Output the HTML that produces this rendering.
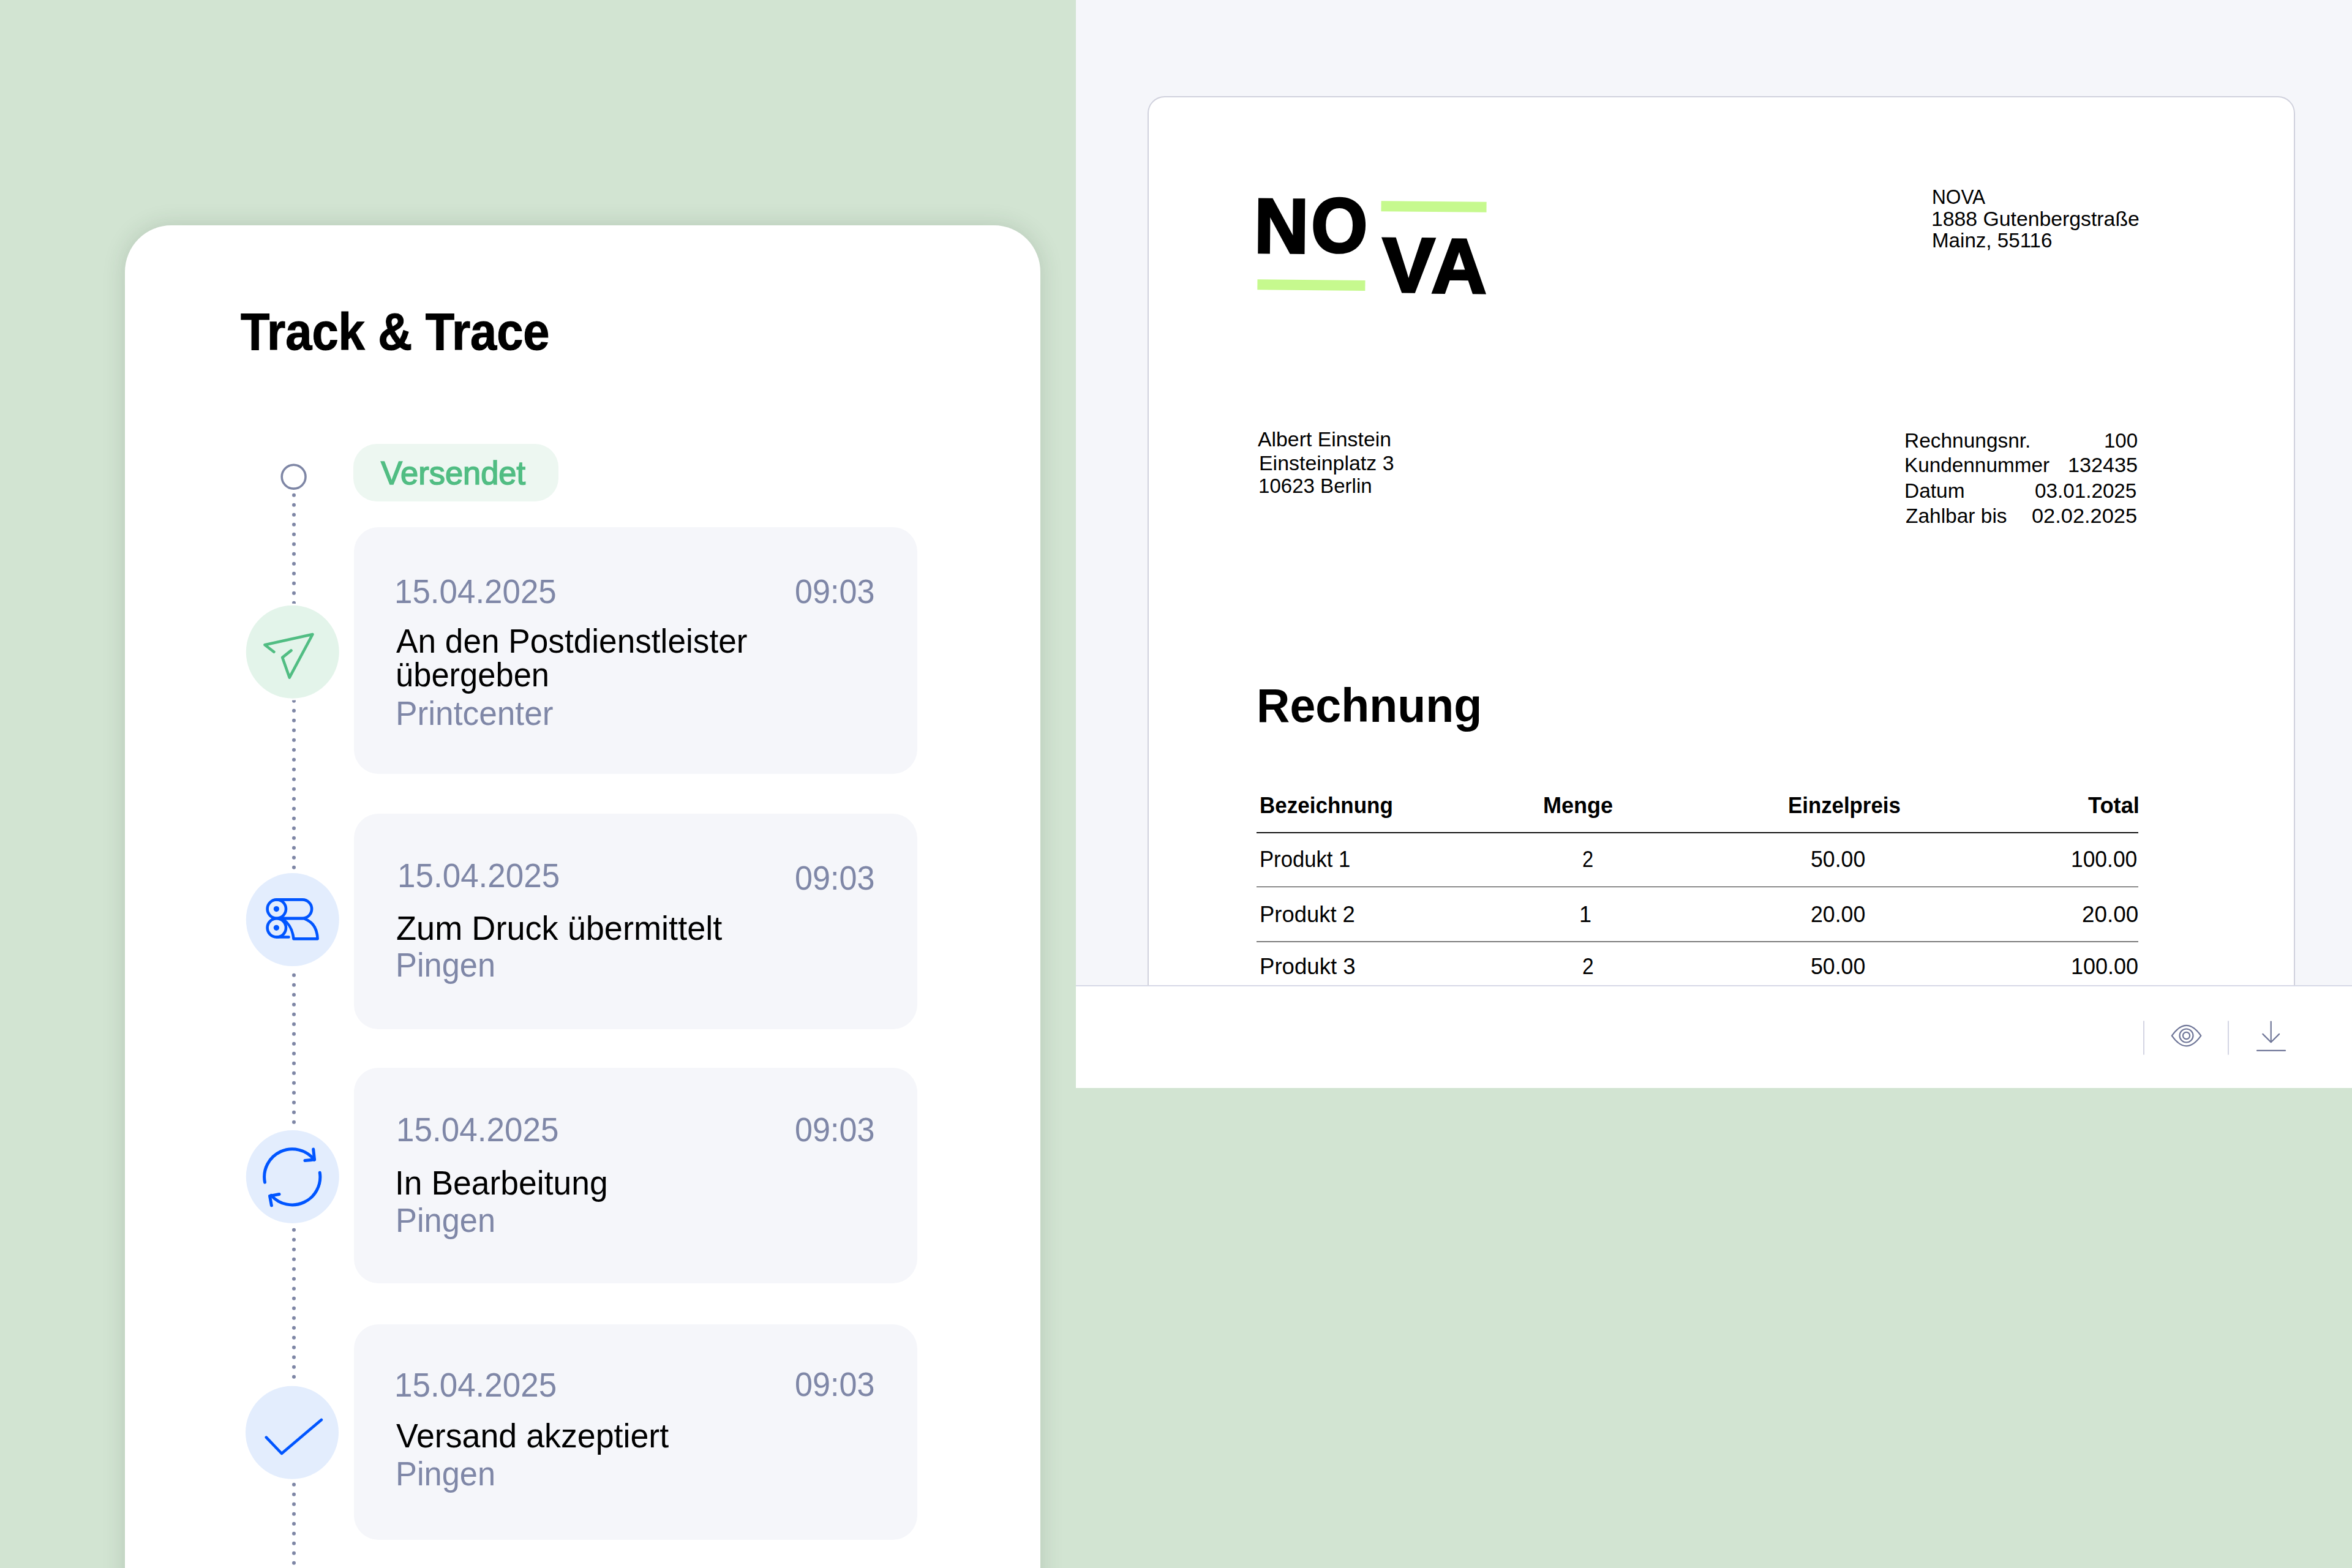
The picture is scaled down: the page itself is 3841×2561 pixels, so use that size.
<!DOCTYPE html>
<html><head><meta charset="utf-8"><style>
html,body{margin:0;padding:0}
body{width:3841px;height:2561px;overflow:hidden;position:relative;background:#d2e4d2;font-family:"Liberation Sans",sans-serif}
.t{position:absolute;white-space:nowrap;line-height:1;transform-origin:left center}
</style></head><body>
<div style="position:absolute;left:1757.0px;top:0.0px;width:2084.0px;height:1610.0px;background:#f5f6fa;"></div>
<div style="position:absolute;left:1757px;top:0;width:2084px;height:1610px;overflow:hidden"><div style="position:absolute;left:117px;top:157px;width:1870px;height:1700px;border:2px solid #d0d1dd;border-radius:28px;background:#fff"></div></div>
<div style="position:absolute;left:1757.0px;top:1609.0px;width:2084.0px;height:168.0px;background:#fff;border-top:2.5px solid #d6d8e6;box-sizing:border-box;"></div>
<div style="position:absolute;left:204.0px;top:368.0px;width:1495.0px;height:2400.0px;background:#fff;border-radius:76px;box-shadow:0 0 36px rgba(40,64,50,0.17);"></div>
<svg style="position:absolute;left:0;top:0" width="3841" height="2561"><g fill="#7e86a5"><circle cx="480" cy="808.8" r="3"/><circle cx="480" cy="824.8" r="3"/><circle cx="480" cy="840.8" r="3"/><circle cx="480" cy="856.8" r="3"/><circle cx="480" cy="872.8" r="3"/><circle cx="480" cy="888.8" r="3"/><circle cx="480" cy="904.8" r="3"/><circle cx="480" cy="920.8" r="3"/><circle cx="480" cy="936.8" r="3"/><circle cx="480" cy="952.8" r="3"/><circle cx="480" cy="968.8" r="3"/><circle cx="480" cy="984.8" r="3"/><circle cx="480" cy="1000.8" r="3"/><circle cx="480" cy="1016.8" r="3"/><circle cx="480" cy="1032.8" r="3"/><circle cx="480" cy="1048.8" r="3"/><circle cx="480" cy="1064.8" r="3"/><circle cx="480" cy="1080.8" r="3"/><circle cx="480" cy="1096.8" r="3"/><circle cx="480" cy="1112.8" r="3"/><circle cx="480" cy="1128.8" r="3"/><circle cx="480" cy="1144.8" r="3"/><circle cx="480" cy="1160.8" r="3"/><circle cx="480" cy="1176.8" r="3"/><circle cx="480" cy="1192.8" r="3"/><circle cx="480" cy="1208.8" r="3"/><circle cx="480" cy="1224.8" r="3"/><circle cx="480" cy="1240.8" r="3"/><circle cx="480" cy="1256.8" r="3"/><circle cx="480" cy="1272.8" r="3"/><circle cx="480" cy="1288.8" r="3"/><circle cx="480" cy="1304.8" r="3"/><circle cx="480" cy="1320.8" r="3"/><circle cx="480" cy="1336.8" r="3"/><circle cx="480" cy="1352.8" r="3"/><circle cx="480" cy="1368.8" r="3"/><circle cx="480" cy="1384.8" r="3"/><circle cx="480" cy="1400.8" r="3"/><circle cx="480" cy="1416.8" r="3"/><circle cx="480" cy="1432.8" r="3"/><circle cx="480" cy="1448.8" r="3"/><circle cx="480" cy="1464.8" r="3"/><circle cx="480" cy="1480.8" r="3"/><circle cx="480" cy="1496.8" r="3"/><circle cx="480" cy="1512.8" r="3"/><circle cx="480" cy="1528.8" r="3"/><circle cx="480" cy="1544.8" r="3"/><circle cx="480" cy="1560.8" r="3"/><circle cx="480" cy="1576.8" r="3"/><circle cx="480" cy="1592.8" r="3"/><circle cx="480" cy="1608.8" r="3"/><circle cx="480" cy="1624.8" r="3"/><circle cx="480" cy="1640.8" r="3"/><circle cx="480" cy="1656.8" r="3"/><circle cx="480" cy="1672.8" r="3"/><circle cx="480" cy="1688.8" r="3"/><circle cx="480" cy="1704.8" r="3"/><circle cx="480" cy="1720.8" r="3"/><circle cx="480" cy="1736.8" r="3"/><circle cx="480" cy="1752.8" r="3"/><circle cx="480" cy="1768.8" r="3"/><circle cx="480" cy="1784.8" r="3"/><circle cx="480" cy="1800.8" r="3"/><circle cx="480" cy="1816.8" r="3"/><circle cx="480" cy="1832.8" r="3"/><circle cx="480" cy="1848.8" r="3"/><circle cx="480" cy="1864.8" r="3"/><circle cx="480" cy="1880.8" r="3"/><circle cx="480" cy="1896.8" r="3"/><circle cx="480" cy="1912.8" r="3"/><circle cx="480" cy="1928.8" r="3"/><circle cx="480" cy="1944.8" r="3"/><circle cx="480" cy="1960.8" r="3"/><circle cx="480" cy="1976.8" r="3"/><circle cx="480" cy="1992.8" r="3"/><circle cx="480" cy="2008.8" r="3"/><circle cx="480" cy="2024.8" r="3"/><circle cx="480" cy="2040.8" r="3"/><circle cx="480" cy="2056.8" r="3"/><circle cx="480" cy="2072.8" r="3"/><circle cx="480" cy="2088.8" r="3"/><circle cx="480" cy="2104.8" r="3"/><circle cx="480" cy="2120.8" r="3"/><circle cx="480" cy="2136.8" r="3"/><circle cx="480" cy="2152.8" r="3"/><circle cx="480" cy="2168.8" r="3"/><circle cx="480" cy="2184.8" r="3"/><circle cx="480" cy="2200.8" r="3"/><circle cx="480" cy="2216.8" r="3"/><circle cx="480" cy="2232.8" r="3"/><circle cx="480" cy="2248.8" r="3"/><circle cx="480" cy="2264.8" r="3"/><circle cx="480" cy="2280.8" r="3"/><circle cx="480" cy="2296.8" r="3"/><circle cx="480" cy="2312.8" r="3"/><circle cx="480" cy="2328.8" r="3"/><circle cx="480" cy="2344.8" r="3"/><circle cx="480" cy="2360.8" r="3"/><circle cx="480" cy="2376.8" r="3"/><circle cx="480" cy="2392.8" r="3"/><circle cx="480" cy="2408.8" r="3"/><circle cx="480" cy="2424.8" r="3"/><circle cx="480" cy="2440.8" r="3"/><circle cx="480" cy="2456.8" r="3"/><circle cx="480" cy="2472.8" r="3"/><circle cx="480" cy="2488.8" r="3"/><circle cx="480" cy="2504.8" r="3"/><circle cx="480" cy="2520.8" r="3"/><circle cx="480" cy="2536.8" r="3"/><circle cx="480" cy="2552.8" r="3"/><circle cx="480" cy="2568.8" r="3"/></g><circle cx="479.6" cy="778.7" r="19.4" fill="#fff" stroke="#7e86a5" stroke-width="3.6"/></svg>
<div style="position:absolute;left:577.3px;top:725.4px;width:334.7px;height:93.7px;background:#edf7f1;border-radius:38px;"></div>
<div style="position:absolute;left:577.5px;top:860.5px;width:920.0px;height:403.0px;background:#f5f6fa;border-radius:40px;"></div>
<div style="position:absolute;left:577.5px;top:1328.6px;width:920.0px;height:352.0px;background:#f5f6fa;border-radius:40px;"></div>
<div style="position:absolute;left:577.5px;top:1743.7px;width:920.0px;height:352.0px;background:#f5f6fa;border-radius:40px;"></div>
<div style="position:absolute;left:577.5px;top:2163.3px;width:920.0px;height:351.5px;background:#f5f6fa;border-radius:40px;"></div>
<svg style="position:absolute;left:0;top:0" width="3841" height="2561"><circle cx="477.8" cy="1064.8" r="79" fill="#fff"/><circle cx="477.8" cy="1064.8" r="76" fill="#e3f4ea"/><path d="M447.4 1064.7 L432.5 1053.2 L510.5 1036 L472.7 1106.6 L461.2 1073.9 L475.5 1062.4" fill="none" stroke="#51bd83" stroke-width="4.6" stroke-linecap="round" stroke-linejoin="round"/><circle cx="477.8" cy="1502.1" r="79" fill="#fff"/><circle cx="477.8" cy="1502.1" r="76" fill="#e3edfd"/><g fill="none" stroke="#0055ff" stroke-width="4.6" stroke-linecap="round" stroke-linejoin="round"><circle cx="451.8" cy="1484.6" r="15.2"/><circle cx="451.8" cy="1515.3" r="15.2"/><path d="M451.8 1469.4 H493.9 A15.2 15.2 0 0 1 493.9 1499.8 H455"/><path d="M463 1500.3 H497 C512 1506 518 1518 518.6 1533.4 H479.5 C478 1520 474 1510 463 1502"/><path d="M451.8 1530.5 H471.5"/></g><g fill="#0055ff"><circle cx="451.4" cy="1484.6" r="4.6"/><circle cx="451.4" cy="1515.3" r="4.6"/></g><circle cx="477.8" cy="1922.0" r="79" fill="#fff"/><circle cx="477.8" cy="1922.0" r="76" fill="#e3edfd"/><g fill="none" stroke="#0055ff" stroke-width="5" stroke-linecap="round" stroke-linejoin="round"><path d="M432.5 1931.1 A45.6 45.6 0 0 1 513.2 1894.3"/><path d="M511.7 1877.1 L513.6 1894 L497.9 1895.6"/><path d="M522.3 1915.3 A45.6 45.6 0 0 1 442.9 1952.3"/><path d="M456 1950.5 L440.5 1953.4 L443.4 1968.9"/></g><circle cx="477.0" cy="2339.7" r="79" fill="#fff"/><circle cx="477.0" cy="2339.7" r="76" fill="#e3edfd"/><path d="M434.8 2347.6 L460 2374 L524.9 2318.9" fill="none" stroke="#0055ff" stroke-width="4.6" stroke-linecap="round" stroke-linejoin="round"/></svg>
<div style="position:absolute;left:2051.6px;top:1359.4px;width:1440.4px;height:2.0px;background:#111;"></div>
<div style="position:absolute;left:2051.6px;top:1448.0px;width:1440.4px;height:1.2px;background:#222;"></div>
<div style="position:absolute;left:2051.6px;top:1537.2px;width:1440.4px;height:1.6px;background:#7a7a7a;"></div>
<svg style="position:absolute;left:0;top:0" width="3841" height="2561"><rect x="3500" y="1667.4" width="2" height="55.3" fill="#d3d5e3"/><rect x="3638" y="1667.4" width="2" height="55.3" fill="#d3d5e3"/><g fill="none" stroke="#6f7698" stroke-width="2.2" stroke-linecap="round" stroke-linejoin="round"><path d="M3546.8 1691.6 Q3570.5 1658.2 3594.3 1691.6 Q3570.5 1725.2 3546.8 1691.6 Z"/><circle cx="3570.5" cy="1691.5" r="11"/><circle cx="3570.5" cy="1691.5" r="5.6"/><path d="M3708.7 1668.5 V1702"/><path d="M3695.3 1688.9 L3708.7 1702.3 L3722.1 1688.9"/><path d="M3686 1715.9 H3732"/></g></svg>
<div class="t" style="left:392.72px;top:498.48px;font-size:86px;font-weight:700;color:#000;transform:scaleX(0.9019);-webkit-text-stroke:1.2px #000;">Track &amp; Trace</div>
<div class="t" style="left:622.25px;top:746.12px;font-size:53px;color:#51bd83;transform:scaleX(0.9890);-webkit-text-stroke:1.6px #51bd83;">Versendet</div>
<div class="t" style="left:643.84px;top:937.68px;font-size:56px;color:#7f87a7;transform:scaleX(0.9447);">15.04.2025</div>
<div class="t" style="left:1297.73px;top:937.68px;font-size:56px;color:#7f87a7;transform:scaleX(0.9320);">09:03</div>
<div class="t" style="left:647.45px;top:1020.33px;font-size:55px;color:#000;transform:scaleX(0.9668);">An den Postdienstleister</div>
<div class="t" style="left:646.04px;top:1074.63px;font-size:55px;color:#000;transform:scaleX(0.9545);">übergeben</div>
<div class="t" style="left:645.62px;top:1138.33px;font-size:55px;color:#7f87a7;transform:scaleX(0.9683);">Printcenter</div>
<div class="t" style="left:649.46px;top:1402.08px;font-size:56px;color:#7f87a7;transform:scaleX(0.9463);">15.04.2025</div>
<div class="t" style="left:1297.73px;top:1405.58px;font-size:56px;color:#7f87a7;transform:scaleX(0.9320);">09:03</div>
<div class="t" style="left:646.87px;top:1488.63px;font-size:55px;color:#000;transform:scaleX(0.9841);">Zum Druck übermittelt</div>
<div class="t" style="left:645.85px;top:1549.43px;font-size:55px;color:#7f87a7;transform:scaleX(0.9521);">Pingen</div>
<div class="t" style="left:647.38px;top:1816.78px;font-size:56px;color:#7f87a7;transform:scaleX(0.9471);">15.04.2025</div>
<div class="t" style="left:1297.73px;top:1816.58px;font-size:56px;color:#7f87a7;transform:scaleX(0.9320);">09:03</div>
<div class="t" style="left:645.39px;top:1904.93px;font-size:55px;color:#000;transform:scaleX(0.9720);">In Bearbeitung</div>
<div class="t" style="left:645.85px;top:1965.73px;font-size:55px;color:#7f87a7;transform:scaleX(0.9521);">Pingen</div>
<div class="t" style="left:643.97px;top:2233.58px;font-size:56px;color:#7f87a7;transform:scaleX(0.9463);">15.04.2025</div>
<div class="t" style="left:1297.73px;top:2233.38px;font-size:56px;color:#7f87a7;transform:scaleX(0.9320);">09:03</div>
<div class="t" style="left:646.85px;top:2317.63px;font-size:55px;color:#000;transform:scaleX(0.9772);">Versand akzeptiert</div>
<div class="t" style="left:645.85px;top:2380.43px;font-size:55px;color:#7f87a7;transform:scaleX(0.9521);">Pingen</div>
<div class="t" style="left:3154.51px;top:304.52px;font-size:33.4px;color:#000;transform:scaleX(0.9462);">NOVA</div>
<div class="t" style="left:3154.11px;top:340.52px;font-size:33.4px;color:#000;transform:scaleX(1.0114);">1888 Gutenbergstraße</div>
<div class="t" style="left:3155.34px;top:375.72px;font-size:33.4px;color:#000;transform:scaleX(0.9922);">Mainz, 55116</div>
<div class="t" style="left:2054.33px;top:700.62px;font-size:33.4px;color:#000;transform:scaleX(1.0126);">Albert Einstein</div>
<div class="t" style="left:2055.76px;top:739.92px;font-size:33.4px;color:#000;transform:scaleX(1.0154);">Einsteinplatz 3</div>
<div class="t" style="left:2055.17px;top:777.22px;font-size:33.4px;color:#000;transform:scaleX(0.9899);">10623 Berlin</div>
<div class="t" style="left:3109.61px;top:702.55px;font-size:33.6px;color:#000;transform:scaleX(0.9961);">Rechnungsnr.</div>
<div class="t" style="left:3110.10px;top:742.85px;font-size:33.6px;color:#000;transform:scaleX(0.9922);">Kundennummer</div>
<div class="t" style="left:3109.56px;top:784.75px;font-size:33.6px;color:#000;transform:scaleX(0.9960);">Datum</div>
<div class="t" style="left:3111.52px;top:825.85px;font-size:33.6px;color:#000;transform:scaleX(0.9970);">Zahlbar bis</div>
<div class="t" style="left:3435.54px;top:702.55px;font-size:33.6px;color:#000;transform:scaleX(0.9839);">100</div>
<div class="t" style="left:3377.29px;top:742.85px;font-size:33.6px;color:#000;transform:scaleX(1.0183);">132435</div>
<div class="t" style="left:3323.35px;top:784.75px;font-size:33.6px;color:#000;transform:scaleX(0.9898);">03.01.2025</div>
<div class="t" style="left:3318.30px;top:825.85px;font-size:33.6px;color:#000;transform:scaleX(1.0241);">02.02.2025</div>
<div class="t" style="left:2051.89px;top:1112.86px;font-size:78px;font-weight:700;color:#000;transform:scaleX(0.9658);">Rechnung</div>
<div class="t" style="left:2056.71px;top:1298.02px;font-size:36px;font-weight:700;color:#000;transform:scaleX(0.9727);">Bezeichnung</div>
<div class="t" style="left:2519.77px;top:1298.02px;font-size:36px;font-weight:700;color:#000;transform:scaleX(1.0009);">Menge</div>
<div class="t" style="left:2919.65px;top:1298.02px;font-size:36px;font-weight:700;color:#000;transform:scaleX(0.9670);">Einzelpreis</div>
<div class="t" style="left:3410.40px;top:1298.02px;font-size:36px;font-weight:700;color:#000;transform:scaleX(1.0072);">Total</div>
<div class="t" style="left:2056.91px;top:1385.72px;font-size:36px;color:#000;transform:scaleX(0.9626);">Produkt 1</div>
<div class="t" style="left:2583.71px;top:1385.72px;font-size:36px;color:#000;transform:scaleX(0.9061);">2</div>
<div class="t" style="left:2957.04px;top:1385.72px;font-size:36px;color:#000;transform:scaleX(0.9914);">50.00</div>
<div class="t" style="left:3382.00px;top:1385.72px;font-size:36px;color:#000;transform:scaleX(0.9830);">100.00</div>
<div class="t" style="left:2056.81px;top:1475.92px;font-size:36px;color:#000;transform:scaleX(1.0116);">Produkt 2</div>
<div class="t" style="left:2579.10px;top:1475.92px;font-size:36px;color:#000;">1</div>
<div class="t" style="left:2957.04px;top:1475.92px;font-size:36px;color:#000;transform:scaleX(0.9914);">20.00</div>
<div class="t" style="left:3399.57px;top:1475.92px;font-size:36px;color:#000;transform:scaleX(1.0227);">20.00</div>
<div class="t" style="left:2056.80px;top:1560.82px;font-size:36px;color:#000;transform:scaleX(1.0168);">Produkt 3</div>
<div class="t" style="left:2583.62px;top:1560.82px;font-size:36px;color:#000;transform:scaleX(0.9309);">2</div>
<div class="t" style="left:2957.04px;top:1560.82px;font-size:36px;color:#000;transform:scaleX(0.9914);">50.00</div>
<div class="t" style="left:3381.58px;top:1560.82px;font-size:36px;color:#000;transform:scaleX(1.0002);">100.00</div>
<div style="position:absolute;left:0;top:0;width:0;height:0;transform:rotate(0.5deg);transform-origin:2240px 400px"><div style="position:absolute;left:2053.7px;top:458.4px;width:176.4px;height:17px;background:#c6f98e"></div><div style="position:absolute;left:2255.2px;top:328.4px;width:172.3px;height:17px;background:#c6f98e"></div><div class="t" style="left:2048.24px;top:307.82px;font-size:126px;font-weight:700;color:#000;transform:scaleX(0.9770);-webkit-text-stroke:4px #000;">N</div><div class="t" style="left:2140.59px;top:306.32px;font-size:126px;font-weight:700;color:#000;transform:scaleX(0.9369);-webkit-text-stroke:4px #000;">O</div><div class="t" style="left:2257.73px;top:369.92px;font-size:126px;font-weight:700;color:#000;transform:scaleX(1.0154);-webkit-text-stroke:4px #000;">V</div><div class="t" style="left:2338.10px;top:371.42px;font-size:126px;font-weight:700;color:#000;transform:scaleX(0.9922);-webkit-text-stroke:4px #000;">A</div></div>
</body></html>
